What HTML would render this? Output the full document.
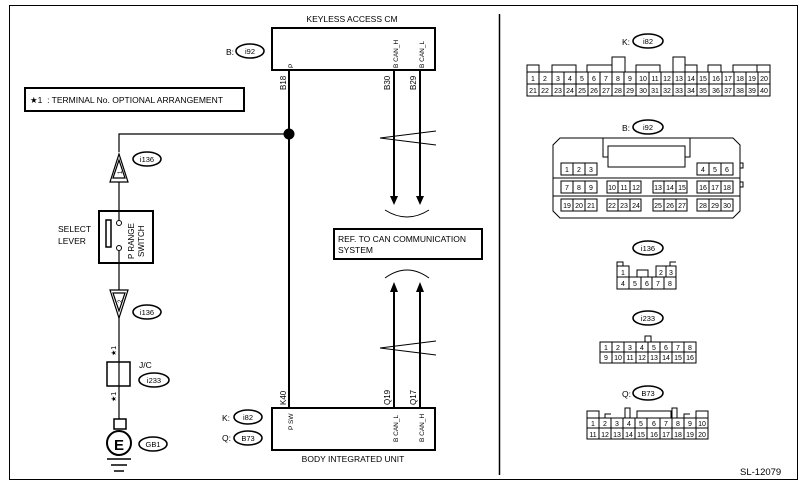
<!DOCTYPE html><html><head><style>body{margin:0;background:#fff}svg{display:block}text{font-family:"Liberation Sans",Arial,sans-serif;fill:#000}</style></head><body>
<svg width="802" height="490" viewBox="0 0 802 490" xmlns="http://www.w3.org/2000/svg">
<g fill="none" stroke="#000">
<rect x="9.5" y="5.5" width="788" height="474" stroke-width="1"/>
<line x1="499.5" y1="14" x2="499.5" y2="475" stroke-width="1.5"/>
<rect x="272" y="28" width="163" height="42" stroke-width="2"/>
<rect x="272" y="408" width="163" height="42" stroke-width="2"/>
<rect x="25" y="88" width="219" height="23" stroke-width="2"/>
<rect x="334" y="229" width="148" height="30" stroke-width="2"/>
<line x1="289" y1="70" x2="289" y2="408" stroke-width="2"/>
<polyline points="289,134 119,134 119,152" stroke-width="1.2"/>
<circle cx="289" cy="134" r="5" fill="#000"/>
<line x1="394" y1="70" x2="394" y2="198" stroke-width="2"/>
<line x1="420" y1="70" x2="420" y2="198" stroke-width="2"/>
<path d="M390,196 L398,196 L394,205 Z M416,196 L424,196 L420,205 Z" fill="#000" stroke="none"/>
<path d="M385,210 Q407,224 429,210" stroke-width="1"/>
<path d="M436,131 L380,138 L436,145" stroke-width="1"/>
<line x1="394" y1="290" x2="394" y2="408" stroke-width="2"/>
<line x1="420" y1="290" x2="420" y2="408" stroke-width="2"/>
<path d="M390,292 L398,292 L394,282 Z M416,292 L424,292 L420,282 Z" fill="#000" stroke="none"/>
<path d="M385,278 Q407,262 429,278" stroke-width="1"/>
<path d="M436,341 L380,348 L436,355" stroke-width="1"/>
<path d="M110,182 L119,154 L128,182 Z M113,178 L119,160 L125,178 Z" stroke-width="1.2"/>
<line x1="119" y1="182" x2="119" y2="220" stroke-width="1.2"/>
<rect x="99" y="211" width="54" height="52" stroke-width="2"/>
<rect x="106" y="220" width="5" height="27" stroke-width="1.5"/>
<circle cx="119" cy="223" r="2.5" stroke-width="1"/><circle cx="119" cy="248" r="2.5" stroke-width="1"/>
<line x1="119" y1="251" x2="119" y2="290" stroke-width="1.2"/>
<path d="M110,290 L119,318 L128,290 Z M113,293 L119,311 L125,293 Z" stroke-width="1.2"/>
<line x1="119" y1="317" x2="119" y2="419" stroke-width="1.2"/>
<rect x="107" y="362" width="23" height="24" stroke-width="1.5"/>
<rect x="114" y="419" width="12" height="10" stroke-width="1.5"/>
<circle cx="119" cy="443" r="12" stroke-width="2"/>
<line x1="107" y1="459" x2="131" y2="459" stroke-width="1.5"/><line x1="111" y1="465" x2="127" y2="465" stroke-width="1.5"/><line x1="114" y1="471" x2="124" y2="471" stroke-width="1.5"/>
<g stroke-width="1.6">
<ellipse cx="250" cy="51" rx="14" ry="7"/><ellipse cx="147" cy="159" rx="14" ry="7"/><ellipse cx="147" cy="312" rx="14" ry="7"/>
<ellipse cx="154" cy="380" rx="15" ry="7"/><ellipse cx="153" cy="444" rx="14" ry="7"/>
<ellipse cx="248" cy="417" rx="14" ry="7"/><ellipse cx="248" cy="438" rx="14" ry="7"/>
<ellipse cx="648" cy="41" rx="15" ry="7"/><ellipse cx="648" cy="127" rx="15" ry="7"/><ellipse cx="648" cy="248" rx="15" ry="7"/>
<ellipse cx="648" cy="318" rx="15" ry="7"/><ellipse cx="648" cy="393" rx="15" ry="7"/>
</g>
<g stroke-width="1">
<rect x="527" y="72" width="243" height="24"/><line x1="527" y1="84" x2="770" y2="84"/>
<path d="M539,72V65H527V72 M552,72V65H576V72 M587,72V65H612V72 M612,65V57H625V72 M636,72V65H660V72 M673,72V57H685V72 M685,65H697V72 M708,72V65H721V72 M733,72V65H757V72 M757,65H770V72"/>
<path d="M539,72V96M552,72V96M564,72V96M576,72V96M588,72V96M600,72V96M612,72V96M624,72V96M636,72V96M649,72V96M661,72V96M673,72V96M685,72V96M697,72V96M709,72V96M722,72V96M734,72V96M746,72V96M758,72V96"/>
<path d="M560,138H733L740,145V211L733,218H560L553,211V145Z"/>
<line x1="553" y1="178" x2="740" y2="178"/><line x1="553" y1="196" x2="740" y2="196"/>
<path d="M603,138V157H608M690,138V157H685"/><rect x="608" y="146" width="77" height="21"/>
<path d="M561,163H597V175H561ZM573,163V175M585,163V175 M697,163H733V175H697ZM709,163V175M721,163V175"/>
<path d="M561,181H597V193H561ZM573,181V193M585,181V193 M607,181H641V193H607ZM618,181V193M630,181V193 M653,181H687V193H653ZM664,181V193M676,181V193 M697,181H733V193H697ZM709,181V193M721,181V193"/>
<path d="M561,199H597V211H561ZM573,199V211M585,199V211 M607,199H641V211H607ZM618,199V211M630,199V211 M653,199H687V211H653ZM664,199V211M676,199V211 M697,199H733V211H697ZM709,199V211M721,199V211"/>
<rect x="740" y="163" width="3" height="5"/><rect x="740" y="182" width="3" height="5"/>
<path d="M617,266H629V277H617Z M617,277H676V289H617Z M617,266V262H623V266 M656,266H676V277H656Z M666,266V277 M670,266V262H676 M629,277V289M641,277V289M652,277V289M664,277V289 M637,277V270H648V277"/>
<rect x="600" y="342" width="96" height="21"/><line x1="600" y1="352" x2="696" y2="352"/>
<path d="M612,342V363M624,342V363M636,342V363M648,342V363M660,342V363M672,342V363M684,342V363 M645,342V336H651V342"/>
<rect x="587" y="418" width="121" height="21"/><line x1="587" y1="428" x2="708" y2="428"/>
<path d="M599,418V439M611,418V439M623,418V439M635,418V439M647,418V439M660,418V439M672,418V439M684,418V439M696,418V439"/>
<path d="M587,418V411H599V418 M605,418V414H611 M625,418V408H630V418 M637,418V411H671V418 M672,418V408H677V418 M684,418V414H690 M696,418V411H708V418"/>
</g>
</g>
<g font-size="8.5">
<text x="352" y="22" text-anchor="middle">KEYLESS ACCESS CM</text>
<text x="353" y="462" text-anchor="middle">BODY INTEGRATED UNIT</text>
<text x="30" y="103">★1&#160;&#160;: TERMINAL No. OPTIONAL ARRANGEMENT</text>
<text x="338" y="242">REF. TO CAN COMMUNICATION</text><text x="338" y="253">SYSTEM</text>
<text x="58" y="232">SELECT</text><text x="58" y="244">LEVER</text>
<text x="139" y="368">J/C</text>
<text x="226" y="55">B:</text><text x="222" y="421">K:</text><text x="222" y="441">Q:</text>
<text x="622" y="45">K:</text><text x="622" y="131">B:</text><text x="622" y="397">Q:</text>
<text x="740" y="475" font-size="9.5">SL-12079</text>
</g>
<g font-size="7.5" text-anchor="middle">
<text x="250" y="54">i92</text><text x="147" y="162">i136</text><text x="147" y="315">i136</text><text x="154" y="383">i233</text><text x="153" y="447">GB1</text>
<text x="248" y="420">i82</text><text x="248" y="441">B73</text>
<text x="648" y="44">i82</text><text x="648" y="130">i92</text><text x="648" y="251">i136</text><text x="648" y="321">i233</text><text x="648" y="396">B73</text>
</g>
<text x="119" y="450" font-size="15" font-weight="bold" text-anchor="middle">E</text>
<g font-size="8">
<text transform="translate(286,90) rotate(-90)">B18</text>
<text transform="translate(390,90) rotate(-90)">B30</text>
<text transform="translate(416,90) rotate(-90)">B29</text>
<text transform="translate(286,405) rotate(-90)">K40</text>
<text transform="translate(390,405) rotate(-90)">Q19</text>
<text transform="translate(416,405) rotate(-90)">Q17</text>
<text transform="translate(293,68) rotate(-90)" font-size="6.5">P</text>
<text transform="translate(398,68) rotate(-90)" font-size="6.5">B CAN_H</text>
<text transform="translate(424,68) rotate(-90)" font-size="6.5">B CAN_L</text>
<text transform="translate(293,430) rotate(-90)" font-size="6.5">P SW</text>
<text transform="translate(398,442) rotate(-90)" font-size="6.5">B CAN_L</text>
<text transform="translate(424,442) rotate(-90)" font-size="6.5">B CAN_H</text>
<text transform="translate(134,259) rotate(-90)">P RANGE</text>
<text transform="translate(144,257) rotate(-90)">SWITCH</text>
<text transform="translate(122,174) rotate(-90)" font-size="6">1</text>
<text transform="translate(122,303) rotate(-90)" font-size="6">2</text>
<text transform="translate(116,356) rotate(-90)" font-size="7">★1</text>
<text transform="translate(116,402) rotate(-90)" font-size="7">★1</text>
</g>
<g font-size="7" text-anchor="middle">
<text x="533" y="81">1</text><text x="545" y="81">2</text><text x="558" y="81">3</text><text x="570" y="81">4</text><text x="582" y="81">5</text><text x="594" y="81">6</text><text x="606" y="81">7</text><text x="618" y="81">8</text><text x="630" y="81">9</text><text x="643" y="81">10</text><text x="655" y="81">11</text><text x="667" y="81">12</text><text x="679" y="81">13</text><text x="691" y="81">14</text><text x="703" y="81">15</text><text x="716" y="81">16</text><text x="728" y="81">17</text><text x="740" y="81">18</text><text x="752" y="81">19</text><text x="764" y="81">20</text>
<text x="533" y="93">21</text><text x="545" y="93">22</text><text x="558" y="93">23</text><text x="570" y="93">24</text><text x="582" y="93">25</text><text x="594" y="93">26</text><text x="606" y="93">27</text><text x="618" y="93">28</text><text x="630" y="93">29</text><text x="643" y="93">30</text><text x="655" y="93">31</text><text x="667" y="93">32</text><text x="679" y="93">33</text><text x="691" y="93">34</text><text x="703" y="93">35</text><text x="716" y="93">36</text><text x="728" y="93">37</text><text x="740" y="93">38</text><text x="752" y="93">39</text><text x="764" y="93">40</text>
<text x="567" y="172">1</text><text x="579" y="172">2</text><text x="591" y="172">3</text><text x="703" y="172">4</text><text x="715" y="172">5</text><text x="727" y="172">6</text>
<text x="567" y="190">7</text><text x="579" y="190">8</text><text x="591" y="190">9</text><text x="612" y="190">10</text><text x="624" y="190">11</text><text x="636" y="190">12</text><text x="658" y="190">13</text><text x="670" y="190">14</text><text x="682" y="190">15</text><text x="703" y="190">16</text><text x="715" y="190">17</text><text x="727" y="190">18</text>
<text x="567" y="208">19</text><text x="579" y="208">20</text><text x="591" y="208">21</text><text x="612" y="208">22</text><text x="624" y="208">23</text><text x="636" y="208">24</text><text x="658" y="208">25</text><text x="670" y="208">26</text><text x="682" y="208">27</text><text x="703" y="208">28</text><text x="715" y="208">29</text><text x="727" y="208">30</text>
<text x="623" y="275">1</text><text x="661" y="275">2</text><text x="671" y="275">3</text>
<text x="623" y="286">4</text><text x="635" y="286">5</text><text x="647" y="286">6</text><text x="658" y="286">7</text><text x="670" y="286">8</text>
<text x="606" y="350">1</text><text x="618" y="350">2</text><text x="630" y="350">3</text><text x="642" y="350">4</text><text x="654" y="350">5</text><text x="666" y="350">6</text><text x="678" y="350">7</text><text x="690" y="350">8</text>
<text x="606" y="360">9</text><text x="618" y="360">10</text><text x="630" y="360">11</text><text x="642" y="360">12</text><text x="654" y="360">13</text><text x="666" y="360">14</text><text x="678" y="360">15</text><text x="690" y="360">16</text>
<text x="593" y="426">1</text><text x="605" y="426">2</text><text x="617" y="426">3</text><text x="629" y="426">4</text><text x="641" y="426">5</text><text x="654" y="426">6</text><text x="666" y="426">7</text><text x="678" y="426">8</text><text x="690" y="426">9</text><text x="702" y="426">10</text>
<text x="593" y="437">11</text><text x="605" y="437">12</text><text x="617" y="437">13</text><text x="629" y="437">14</text><text x="641" y="437">15</text><text x="654" y="437">16</text><text x="666" y="437">17</text><text x="678" y="437">18</text><text x="690" y="437">19</text><text x="702" y="437">20</text>
</g>
</svg></body></html>
